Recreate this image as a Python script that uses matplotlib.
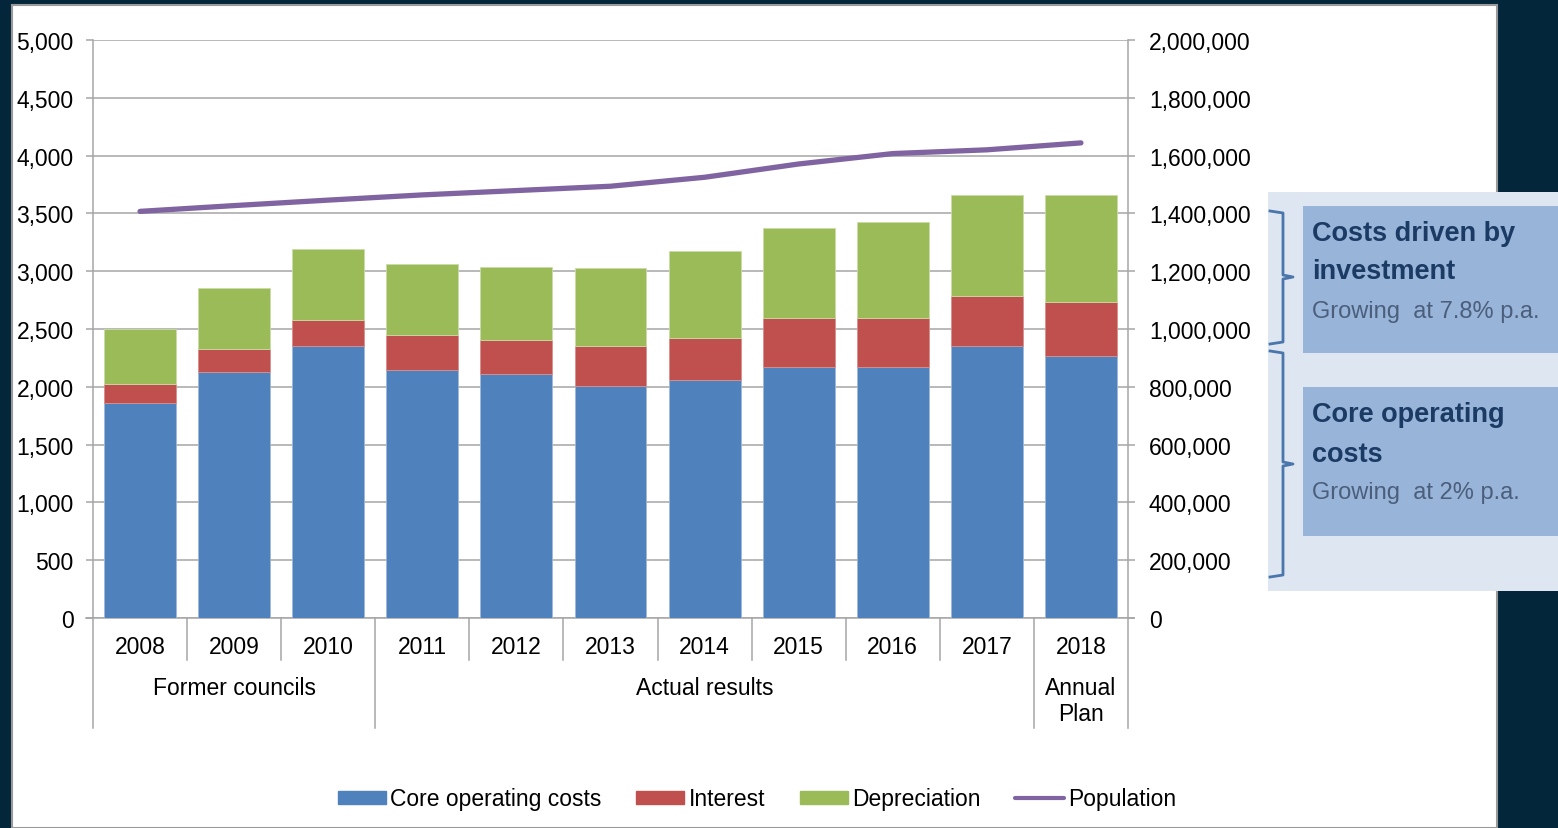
import numpy as np
import matplotlib
matplotlib.use("Agg")
import matplotlib.pyplot as plt
from matplotlib.patches import Rectangle, Patch
from matplotlib.lines import Line2D
from matplotlib.ticker import FuncFormatter

plt.rcParams['font.family'] = ['Liberation Sans', 'DejaVu Sans']

# data
years = ["2008", "2009", "2010", "2011", "2012", "2013", "2014", "2015", "2016", "2017", "2018"]
core = [1860, 2125, 2353, 2145, 2111, 2005, 2056, 2175, 2175, 2353, 2266]
interest = [165, 202, 225, 303, 298, 345, 366, 420, 420, 432, 468]
depreciation = [475, 530, 614, 610, 627, 677, 750, 775, 827, 877, 928]
population = [1407000, 1427000, 1446000, 1464000, 1479000, 1494000, 1525000, 1571000, 1607000, 1620000, 1644000]
groups = [("Former councils", 0, 2), ("Actual results", 3, 9), ("Annual\nPlan", 10, 10)]

W, H = 1558, 829
navy = "#03263a"
grid_c = "#a6a6a6"
c_core, c_int, c_dep, c_pop = "#4f81bd", "#c0504d", "#9bbb59", "#8064a2"
fs = 16.5

def fx(x):
    return x / W

def fy(y):
    return 1 - y / H

fig = plt.figure(figsize=(W / 100, H / 100), dpi=100, facecolor=navy)

# white slide panel
fig.add_artist(Rectangle((fx(12), fy(829)), fx(1497) - fx(12), fy(6) - fy(829),
                         transform=fig.transFigure, facecolor="white",
                         edgecolor="#9a9a9a", linewidth=1.5, zorder=0))

ax = fig.add_axes([fx(93), fy(619), fx(1128) - fx(93), fy(41) - fy(619)])
ax.set_facecolor("none")

x = np.arange(len(years))
core = np.array(core)
interest = np.array(interest)
depreciation = np.array(depreciation)
bw = 0.765
ax.bar(x, core, bw, color=c_core, edgecolor="#9db8dc", linewidth=0.6, zorder=3)
ax.bar(x, interest, bw, bottom=core, color=c_int, edgecolor="#d98f8d", linewidth=0.6, zorder=3)
ax.bar(x, depreciation, bw, bottom=core + interest, color=c_dep, edgecolor="#c9dca6", linewidth=0.6, zorder=3)

ax.set_ylim(0, 5000)
ax.set_xlim(-0.5, len(years) - 0.5)
ax.set_yticks(np.arange(0, 5001, 500))
ax.yaxis.set_major_formatter(FuncFormatter(lambda v, p: f"{int(v):,}"))
ax.grid(axis="y", color=grid_c, linewidth=1.1, zorder=0)
ax.set_axisbelow(True)
for s in ["top", "right", "bottom"]:
    ax.spines[s].set_visible(False)
ax.spines["left"].set_color(grid_c)
ax.spines["left"].set_linewidth(1.1)
ax.tick_params(axis="y", length=5, width=1.1, color=grid_c, pad=9, labelsize=fs)

ax.set_xticks(x)
ax.set_xticklabels(years)
ax.tick_params(axis="x", length=0, pad=12, labelsize=fs)

# population on secondary axis
ax2 = ax.twinx()
ax2.plot(x, population, color=c_pop, linewidth=3.8, solid_capstyle="round", zorder=4)
ax2.set_ylim(0, 2000000)
ax2.set_yticks(np.arange(0, 2000001, 200000))
ax2.yaxis.set_major_formatter(FuncFormatter(lambda v, p: f"{int(v):,}"))
for s in ["top", "left", "bottom"]:
    ax2.spines[s].set_visible(False)
ax2.spines["right"].set_color(grid_c)
ax2.spines["right"].set_linewidth(1.1)
ax2.tick_params(axis="y", length=5, width=1.1, color=grid_c, pad=10, labelsize=fs)

# category axis: baseline, separators and group labels
tr = ax.get_xaxis_transform()
ax.plot([-0.5 - 0.075, len(years) - 0.5 + 0.065], [0, 0], color=grid_c, lw=1.1,
        transform=tr, clip_on=False, zorder=2)
long_seps = set()
for name, a, b in groups:
    long_seps.add(a - 0.5)
    long_seps.add(b + 0.5)
    ax.text((a + b) / 2, -0.121 if "\n" not in name else -0.143, name, transform=tr,
            ha="center", va="center", fontsize=fs, linespacing=1.15)
for s in np.arange(-0.5, len(years), 1.0):
    y_end = -0.1903 if s in long_seps else -0.0735
    ax.plot([s, s], [0, y_end], color=grid_c, lw=1.1, transform=tr, clip_on=False)

# legend
handles = [Patch(color=c_core), Patch(color=c_int), Patch(color=c_dep),
           Line2D([], [], color=c_pop, lw=3, solid_capstyle="round")]
labels = ["Core operating costs", "Interest", "Depreciation", "Population"]
fig.legend(handles, labels, loc="center", bbox_to_anchor=(fx(757), fy(800)), ncol=4,
           frameon=False, fontsize=fs, handlelength=2.1, handleheight=0.5,
           handletextpad=0.2, columnspacing=1.5)

# side panel with brackets
fig.add_artist(Rectangle((fx(1268), fy(592)), fx(1558) - fx(1268), fy(193) - fy(592),
                         transform=fig.transFigure, facecolor="#dde6f1", edgecolor="none", zorder=5))
for top, bot in [(207, 354), (388, 537)]:
    fig.add_artist(Rectangle((fx(1303), fy(bot)), fx(1558) - fx(1303), fy(top) - fy(bot),
                             transform=fig.transFigure, facecolor="#98b4d8", edgecolor="none", zorder=6))
for top, mid, bot in [(212, 278, 345), (352, 465, 578)]:
    px = [1270, 1283, 1283, 1293, 1283, 1283, 1270]
    py = [top, top + 2, mid - 2, mid, mid + 2, bot - 2, bot]
    fig.add_artist(Line2D([fx(v) for v in px], [fy(v) for v in py], transform=fig.transFigure,
                          color="#4a76ac", lw=2, zorder=7))

dark = "#1b3a64"
soft = "#4b5f7d"
fig.text(fx(1312), fy(234), "Costs driven by", fontsize=19.5, fontweight="bold", color=dark, va="center", zorder=8)
fig.text(fx(1312), fy(272), "investment", fontsize=19.5, fontweight="bold", color=dark, va="center", zorder=8)
fig.text(fx(1312), fy(312), "Growing  at 7.8% p.a.", fontsize=17, color=soft, va="center", zorder=8)
fig.text(fx(1312), fy(415), "Core operating", fontsize=19.5, fontweight="bold", color=dark, va="center", zorder=8)
fig.text(fx(1312), fy(455), "costs", fontsize=19.5, fontweight="bold", color=dark, va="center", zorder=8)
fig.text(fx(1312), fy(493), "Growing  at 2% p.a.", fontsize=17, color=soft, va="center", zorder=8)

fig.savefig("out.png", dpi=100, facecolor=navy)
